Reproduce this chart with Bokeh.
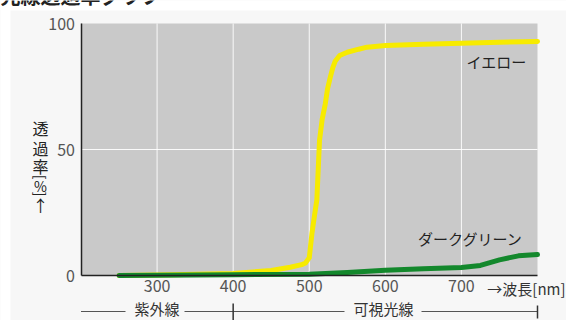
import math
from bokeh.plotting import figure
from bokeh.models import FixedTicker, Range1d
from bokeh.core.properties import value
from bokeh.embed import file_html
from bokeh.resources import INLINE

# ---- data ----
yellow_nm = [250, 320, 400, 450, 475, 490, 495, 500, 503.5, 507, 510, 513.5, 517, 521, 524, 527.7, 531, 534, 540, 550, 565, 576, 600, 650, 700, 750, 800]
yellow_pct = [0, 0.3, 0.8, 2.0, 3.3, 4.3, 5.0, 7.0, 16.6, 24, 30, 53.6, 62, 68, 74, 78.7, 82.5, 85, 87.3, 88.6, 89.8, 90.6, 91.3, 91.8, 92.2, 92.6, 92.9]
green_nm = [250, 300, 400, 500, 550, 600, 650, 700, 725, 750, 775, 800]
green_pct = [0, 0.1, 0.3, 0.5, 1.2, 2.1, 2.7, 3.2, 4.0, 6.2, 7.8, 8.3]
x_ticks = [300, 400, 500, 600, 700]
y_ticks = [0, 50, 100]
x_bounds = [200, 800]
y_bounds = [0, 100]
series_labels = ["イエロー", "ダークグリーン"]
title_text = "光線透過率グラフ"
y_label_upright = ["透", "過", "率", "%", "↑"]
y_label_turned = ["[", "]"]
x_unit_text = "→波長[nm]"
band_names = ["紫外線", "可視光線"]
band_divider = 400

FONT = "Noto Sans CJK JP"
W, H = 566, 320
# pixel placement of the plot area inside the canvas
PL, PR, PT, PB = 80.5, 537.0, 23.0, 275.0

kx = (x_bounds[1] - x_bounds[0]) / (PR - PL)
ky = (y_bounds[1] - y_bounds[0]) / (PB - PT)

def sx(px):
    return x_bounds[0] + (px - PL) * kx

def sy(py):
    return y_bounds[0] + (PB - py) * ky

p = figure(width=W, height=H, title=None,
           x_range=Range1d(sx(0), sx(W)), y_range=Range1d(sy(H), sy(0)),
           output_backend="svg", toolbar_location=None,
           min_border=0, min_border_left=0, min_border_right=0, min_border_top=0, min_border_bottom=0)
p.border_fill_color = "#f7f7f7"
p.background_fill_color = "#f7f7f7"
p.outline_line_color = None
p.grid.visible = False

# outer white page strips (top / left)
p.quad(left=sx(0), right=sx(W), bottom=sy(10), top=sy(0), fill_color="white", line_color=None)
p.quad(left=sx(0), right=sx(10), bottom=sy(H), top=sy(0), fill_color="white", line_color=None)

# plot area
p.quad(left=x_bounds[0], right=x_bounds[1], bottom=y_bounds[0], top=y_bounds[1],
       fill_color="#c9c9c9", line_color=None)
# grid lines from the tick lists
p.segment(x0=x_ticks, y0=[y_bounds[0]] * len(x_ticks), x1=x_ticks, y1=[y_bounds[1]] * len(x_ticks),
          line_color="white", line_width=1, line_alpha=0.9)
p.segment(x0=[x_bounds[0]], y0=[y_ticks[1]], x1=[x_bounds[1]], y1=[y_ticks[1]],
          line_color="white", line_width=1, line_alpha=0.9)

# axes, fixed at the plot area's edges
p.xaxis.fixed_location = y_bounds[0]
p.yaxis.fixed_location = x_bounds[0]
p.xaxis.bounds = tuple(x_bounds)
p.yaxis.bounds = tuple(y_bounds)
p.xaxis.ticker = FixedTicker(ticks=x_ticks)
p.yaxis.ticker = FixedTicker(ticks=y_ticks)
for ax in (p.xaxis, p.yaxis):
    ax.axis_line_color = "#222222"
    ax.axis_line_width = 1.5
    ax.major_tick_line_color = None
    ax.minor_tick_line_color = None
    ax.major_tick_in = 0
    ax.major_tick_out = 0
    ax.major_label_text_font = FONT
    ax.major_label_text_font_size = "16px"
    ax.major_label_text_color = "#555555"
p.xaxis.major_label_standoff = 4
p.yaxis.major_label_standoff = 6

# curves
p.line(yellow_nm, yellow_pct, line_color="#f7eb00", line_width=5, line_join="round", line_cap="round")
p.line(green_nm, green_pct, line_color="#13882c", line_width=5, line_join="round", line_cap="round")

def txt(x, y, s, size="16px", color="#333333", align="center", baseline="middle", style="normal", angle=0):
    p.text(x=[x], y=[y], text=[s], text_font=value(FONT), text_font_size=size,
           text_color=color, text_align=align, text_baseline=baseline, text_font_style=style, angle=angle)

# series labels
txt(sx(496), sy(61), series_labels[0], size="15px", color="#222222")
txt(sx(470), sy(238), series_labels[1], size="15px", color="#222222")

# title (cut off at the top edge, as in the source)
txt(sx(0), sy(9), title_text, size="20px", color="#222222", align="left", baseline="bottom", style="bold")

# y axis label (stacked, brackets turned)
for ch, yy in zip(y_label_upright, [127, 147, 165, 185, 204]):
    txt(sx(40), sy(yy), ch, size="16px" if ch != "%" else "14px", color="#222222")
for ch, yy in zip(y_label_turned, [176.5, 193.5]):
    txt(sx(40), sy(yy), ch, size="14px", color="#222222", angle=-math.pi / 2)

# x unit text
txt(sx(565), sy(288), x_unit_text, size="15px", color="#333333", align="right")

# band bracket
by = sy(311)
p.segment(x0=[x_bounds[0], sx(184), sx(421)], y0=[by] * 3,
          x1=[sx(125), sx(344), x_bounds[1]], y1=[by] * 3,
          line_color="#555555", line_width=1)
p.segment(x0=[band_divider, x_bounds[1]], y0=[sy(303), sy(305)],
          x1=[band_divider, x_bounds[1]], y1=[sy(320), sy(318)],
          line_color="#333333", line_width=1.5)
txt((x_bounds[0] + band_divider) / 2, sy(307.5), band_names[0], size="15px")
txt(sx(383), sy(307.5), band_names[1], size="15px")

open("out.html", "w").write(file_html(p, INLINE))
